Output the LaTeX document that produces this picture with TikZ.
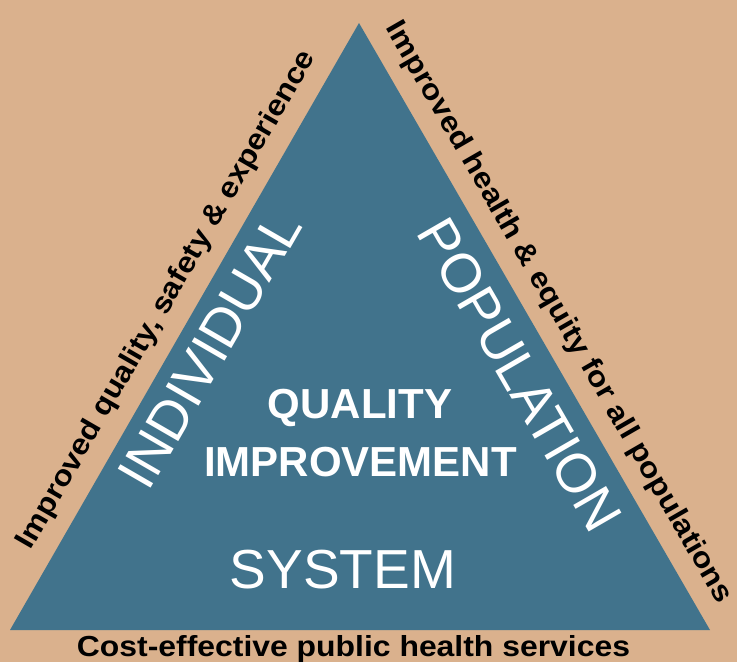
\documentclass[tikz,border=0pt]{standalone}
\usepackage{fontspec}
\setmainfont{Liberation Sans}
\newfontfamily\widesans[FakeStretch=1.1]{Liberation Sans}
\usetikzlibrary{calc}
\definecolor{tanbg}{RGB}{218,177,141}
\definecolor{qiblue}{RGB}{65,115,140}

\begin{document}
\begin{tikzpicture}[x=1pt,y=-1pt,
  sidelbl/.style={inner sep=0pt,anchor=base,font=\widesans\bfseries\fontsize{29}{29}\selectfont},
  dimlbl/.style={inner sep=0pt,text=white,font=\fontsize{55}{55}\selectfont},
  qilbl/.style={inner sep=0pt,anchor=base,text=white,font=\bfseries\fontsize{42}{42}\selectfont}]
  \fill[tanbg] (0,0) rectangle (737,662);
  \useasboundingbox (0,0) rectangle (737,662);
  \coordinate (apex) at (359,23);
  \coordinate (left) at (10,630);
  \coordinate (right) at (710,630);
  \fill[qiblue] (left) -- (apex) -- (right) -- cycle;

  % labels along the three sides
  \coordinate (qm) at ($(left)!.52!(apex)$);
  \coordinate (hm) at ($(apex)!.5!(right)$);
  \node[sidelbl,rotate=60] (qualitylbl) at ($(qm)!21pt!90:(apex)$) {Improved quality, safety \& experience};
  \node[sidelbl,rotate=-60] (healthlbl) at ($(hm)!20pt!-90:(apex)$) {Improved health \& equity for all populations};
  \node[sidelbl] (costlbl) at (353.5,656) {Cost-effective public health services};

  % inside the triangle
  \node[dimlbl,rotate=60] (ind) at (210,350) {INDIVIDUAL};
  \node[dimlbl,rotate=-60] (pop) at (520,375) {POPULATION};
  \node[dimlbl,anchor=base] (sys) at (343,588) {SYSTEM};
  \node[qilbl] (qi) at (360,418) {QUALITY};
  \node[qilbl] (imp) at (360.5,476) {IMPROVEMENT};
\end{tikzpicture}
\end{document}
